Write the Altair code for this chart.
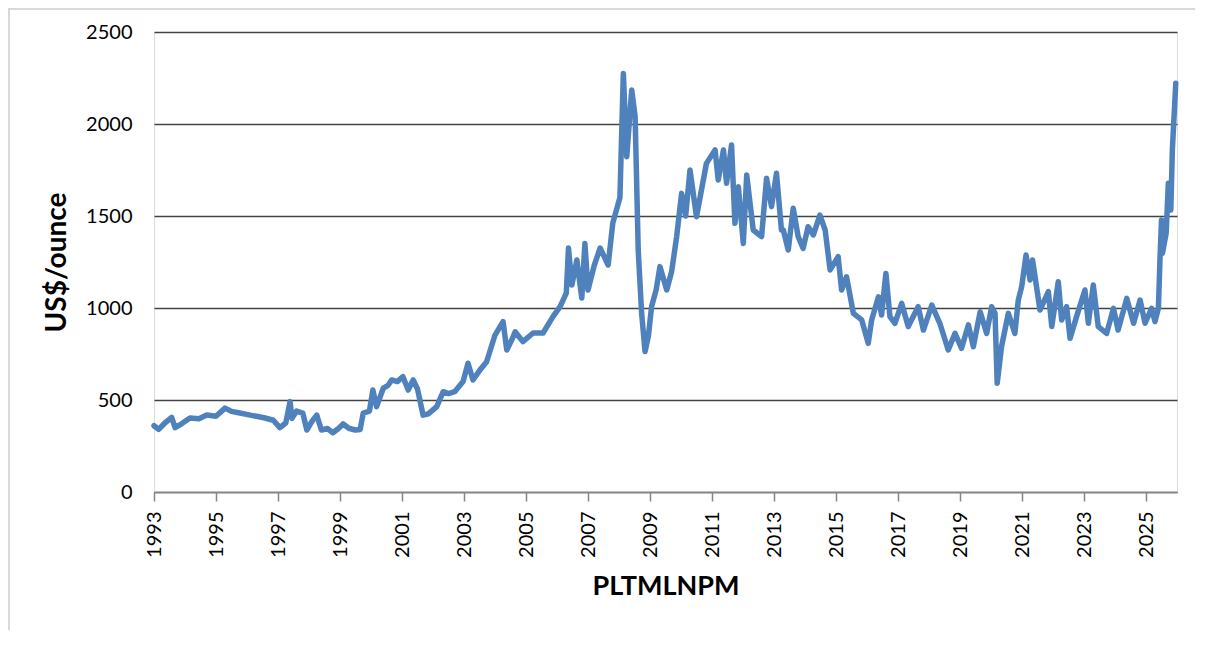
import altair as alt
import pandas as pd

years = [
    1993.00, 1993.15, 1993.35, 1993.57, 1993.68, 1993.90, 1994.16, 1994.45, 1994.70, 1995.00,
    1995.29, 1995.50, 1995.77, 1996.10, 1996.35, 1996.58, 1996.85, 1997.06, 1997.25, 1997.39,
    1997.45, 1997.60, 1997.80, 1997.93, 1998.10, 1998.25, 1998.40, 1998.60, 1998.77, 1998.95,
    1999.10, 1999.30, 1999.50, 1999.65, 1999.75, 1999.95, 2000.06, 2000.18, 2000.40, 2000.55,
    2000.67, 2000.85, 2001.03, 2001.20, 2001.36, 2001.50, 2001.68, 2001.85, 2002.12, 2002.33,
    2002.50, 2002.70, 2002.97, 2003.13, 2003.29, 2003.50, 2003.73, 2004.00, 2004.26, 2004.38,
    2004.55, 2004.65, 2004.90, 2005.23, 2005.55, 2005.87, 2006.10, 2006.30, 2006.37, 2006.48,
    2006.64, 2006.80, 2006.90, 2007.00, 2007.20, 2007.39, 2007.65, 2007.80, 2008.03, 2008.14,
    2008.25, 2008.35, 2008.41, 2008.52, 2008.62, 2008.73, 2008.84, 2008.95, 2009.05, 2009.20,
    2009.32, 2009.54, 2009.70, 2009.86, 2010.02, 2010.15, 2010.29, 2010.50, 2010.82, 2011.10,
    2011.20, 2011.37, 2011.47, 2011.63, 2011.74, 2011.85, 2012.01, 2012.12, 2012.33, 2012.60,
    2012.76, 2012.92, 2013.08, 2013.24, 2013.30, 2013.46, 2013.62, 2013.78, 2013.94, 2014.10,
    2014.27, 2014.48, 2014.65, 2014.81, 2015.07, 2015.18, 2015.34, 2015.56, 2015.83, 2016.04,
    2016.15, 2016.37, 2016.47, 2016.61, 2016.74, 2016.90, 2017.12, 2017.33, 2017.65, 2017.82,
    2018.09, 2018.35, 2018.62, 2018.84, 2019.05, 2019.27, 2019.43, 2019.65, 2019.86, 2020.02,
    2020.13, 2020.20, 2020.34, 2020.56, 2020.77, 2020.88, 2020.99, 2021.13, 2021.26, 2021.34,
    2021.58, 2021.85, 2021.96, 2022.17, 2022.28, 2022.44, 2022.55, 2022.76, 2023.03, 2023.14,
    2023.30, 2023.46, 2023.73, 2023.95, 2024.10, 2024.38, 2024.60, 2024.81, 2024.97, 2025.18,
    2025.29, 2025.40, 2025.45, 2025.50, 2025.53, 2025.65, 2025.72, 2025.80, 2025.85, 2025.96,
]
prices = [
    360, 340, 375, 405, 350, 372, 402, 398, 418, 412,
    456, 438, 429, 418, 410, 402, 390, 350, 375, 491,
    400, 440, 429, 337, 385, 418, 337, 345, 322, 345,
    370, 345, 337, 340, 429, 440, 554, 464, 565, 580,
    609, 600, 627, 554, 609, 560, 418, 425, 464, 545,
    535, 545, 600, 700, 609, 660, 708, 853, 926, 772,
    830, 871, 817, 864, 864, 953, 1007, 1081, 1326, 1125,
    1261, 1054, 1351, 1098, 1230, 1326, 1234, 1462, 1600, 2275,
    1822, 2050, 2185, 2040, 1315, 971, 763, 850, 1007, 1100,
    1225, 1098, 1200, 1388, 1623, 1500, 1750, 1496, 1786, 1859,
    1696, 1859, 1678, 1886, 1460, 1659, 1351, 1723, 1424, 1388,
    1705, 1551, 1732, 1424, 1424, 1315, 1542, 1388, 1324, 1442,
    1397, 1505, 1424, 1207, 1279, 1098, 1170, 971, 935, 808,
    935, 1061, 962, 1188, 953, 917, 1025, 899, 1007, 880,
    1016, 917, 772, 862, 781, 908, 790, 980, 862, 1007,
    971, 591, 790, 971, 862, 1043, 1116, 1288, 1152, 1261,
    989, 1089, 899, 1143, 935, 1007, 835, 953, 1098, 917,
    1125, 899, 862, 998, 880, 1052, 917, 1043, 917, 998,
    926, 998, 1261, 1478, 1297, 1406, 1678, 1533, 1859, 2221,
]
x_ticks = list(range(1993, 2026, 2))
y_ticks = [0, 500, 1000, 1500, 2000, 2500]

df = pd.DataFrame({"year": years, "price": prices})

FONT = "Lato"

frame = alt.Chart(alt.Data(values=[{}])).mark_rect(
    fill="transparent", stroke="#d9d9d9", strokeWidth=2, clip=False
).encode(
    x=alt.value(-145), x2=alt.value(1060), y=alt.value(-23), y2=alt.value(660)
)

line = alt.Chart(df).mark_line(
    color="#4F81BD", strokeWidth=5.5, strokeJoin="round", strokeCap="round"
).encode(
    x=alt.X(
        "year:Q",
        scale=alt.Scale(domain=[1993, 2026], nice=False, zero=False),
        axis=alt.Axis(
            title="PLTMLNPM",
            values=x_ticks,
            format="d",
            labelAngle=270,
            labelFontSize=20,
            labelPadding=10,
            labelColor="#000000",
            labelFont=FONT,
            tickSize=9,
            tickColor="#868686",
            tickWidth=1.5,
            domainColor="#868686",
            domainWidth=1.5,
            grid=False,
            titleFont=FONT,
            titleFontSize=27,
            titleFontWeight="bold",
            titleColor="#000000",
            titlePadding=16,
            labelFlush=False,
            labelOverlap=False,
        ),
    ),
    y=alt.Y(
        "price:Q",
        scale=alt.Scale(domain=[0, 2500], nice=False),
        axis=alt.Axis(
            title="US$/ounce",
            values=y_ticks,
            format="d",
            labelFontSize=20,
            labelPadding=22,
            labelColor="#000000",
            labelFont=FONT,
            ticks=False,
            domain=False,
            grid=True,
            gridColor="#444444",
            gridWidth=1.5,
            titleFont=FONT,
            titleFontSize=28,
            titleFontWeight="bold",
            titleColor="#000000",
            titlePadding=14,
            labelFlush=False,
        ),
    ),
)

chart = alt.layer(frame, line).properties(
    width=1023,
    height=460,
    autosize=alt.AutoSizeParams(type="none"),
    padding={"left": 146, "top": 24, "right": 18, "bottom": 138},
).configure_view(stroke=None).configure(background="white")

chart.save("out.html", embed_options={"renderer": "svg", "actions": False})
